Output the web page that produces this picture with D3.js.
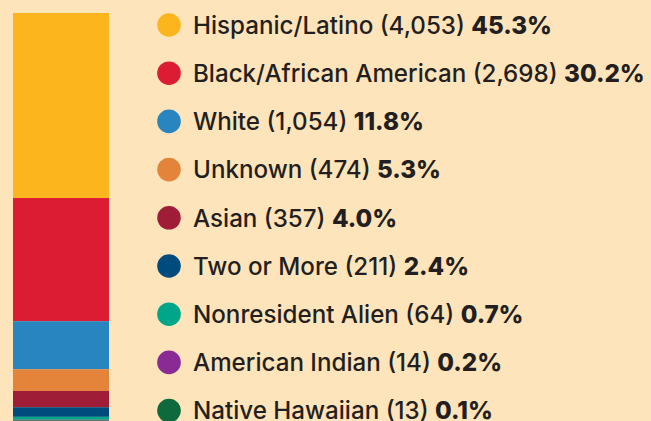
<!DOCTYPE html>
<html>
<head>
<meta charset="utf-8">
<script src="https://cdn.jsdelivr.net/npm/d3@7"></script>
<style>
  html, body { margin: 0; padding: 0; background: #FEE4BA; }
  svg { display: block; }
</style>
</head>
<body>
<script>
const categories = ["Hispanic/Latino", "Black/African American", "White", "Unknown", "Asian", "Two or More", "Nonresident Alien", "American Indian", "Native Hawaiian"];
const counts = [4053, 2698, 1054, 474, 357, 211, 64, 14, 13];
const percents = ["45.3%", "30.2%", "11.8%", "5.3%", "4.0%", "2.4%", "0.7%", "0.2%", "0.1%"];
const colors = ["#FDB51E", "#DC1C33", "#2985C0", "#E3843A", "#A01D38", "#004B7E", "#00A68A", "#8A2A94", "#0E6A3C"];

const W = 651, H = 421;
const svg = d3.select("body").append("svg").attr("width", W).attr("height", H);
svg.append("rect").attr("width", W).attr("height", H).attr("fill", "#FEE4BA");

const total = d3.sum(counts);
const data = categories.map((c, i) => ({ cat: c, count: counts[i], pct: percents[i], color: colors[i] }));
let acc = 0;
data.forEach(d => { d.y0 = acc; acc += d.count; d.y1 = acc; });

const y = d3.scaleLinear().domain([0, total]).range([13, 421]);
const x = d3.scaleBand().domain(["all"]).range([13, 109]).padding(0);

svg.append("g").selectAll("rect").data(data).join("rect")
  .attr("x", x("all"))
  .attr("width", x.bandwidth())
  .attr("y", d => y(d.y0))
  .attr("height", d => y(d.y1) - y(d.y0))
  .attr("fill", d => d.color);

const rowY = d3.scalePoint().domain(categories).range([25, 25 + 48.2 * 8]);
const fmt = d3.format(",");
const font = "Inter, 'Noto Sans', sans-serif";

const leg = svg.append("g").selectAll("g").data(data).join("g")
  .attr("transform", d => `translate(0,${rowY(d.cat)})`);
leg.append("circle").attr("cx", 169).attr("cy", 0).attr("r", 11.8).attr("fill", d => d.color);
const t = leg.append("text")
  .attr("x", 193)
  .attr("font-family", font)
  .attr("font-size", 20)
  .attr("fill", "#231F20");
t.append("tspan").attr("font-weight", 500).text(d => `${d.cat} (${fmt(d.count)}) `);
t.append("tspan").attr("font-weight", 800).text(d => d.pct);

// fit the font size so the longest row spans the same width as in the reference
const longest = t.filter((d, i) => i === 1).node();
const w0 = longest.getComputedTextLength();
const fs = 20 * 452 / w0;
t.attr("font-size", fs).attr("y", fs * 0.36);
</script>
</body>
</html>
